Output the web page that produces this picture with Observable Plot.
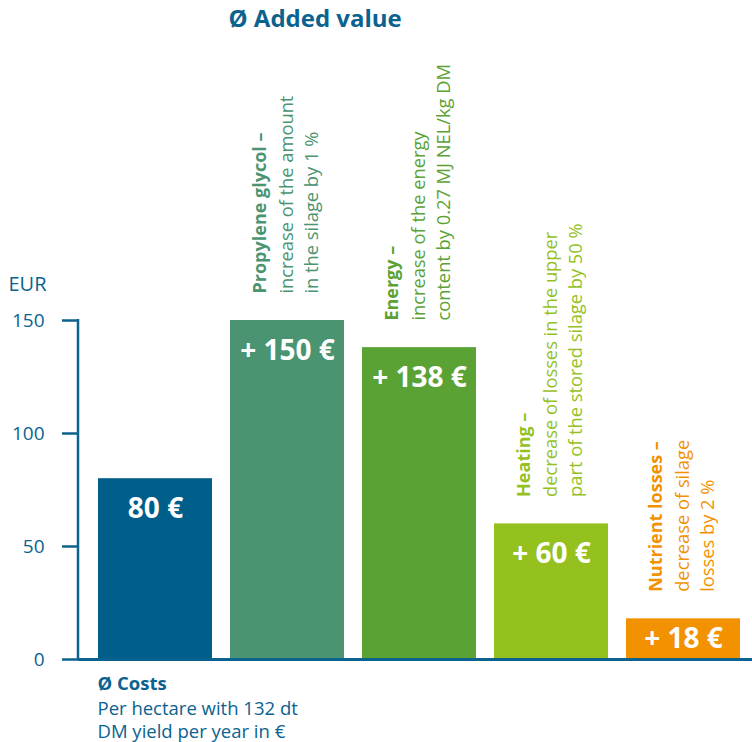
<!DOCTYPE html>
<html>
<head>
<meta charset="utf-8">
<script src="https://cdn.jsdelivr.net/npm/d3@7"></script>
<script src="https://cdn.jsdelivr.net/npm/@observablehq/plot@0.6"></script>
<style>
  html, body { margin: 0; padding: 0; background: #ffffff; }
  #chart svg { display: block; }
</style>
</head>
<body>
<div id="chart"></div>
<script>
// ---- Data ----
const categories = ["Costs", "Propylene glycol", "Energy", "Heating", "Nutrient losses"];
const values = [80, 150, 138, 60, 18];
const valueLabels = ["80 €", "+ 150 €", "+ 138 €", "+ 60 €", "+ 18 €"];
const headings = ["", "Propylene glycol –", "Energy –", "Heating –", "Nutrient losses –"];
const descriptions = [
  "",
  "increase of the amount\nin the silage by 1 %",
  "increase of the energy\ncontent by 0.27 MJ NEL/kg DM",
  "decrease of losses in the upper\npart of the stored silage by 50 %",
  "decrease of silage\nlosses by 2 %"
];
const barColors = ["#005e8a", "#4a9471", "#5ba234", "#95c11f", "#f39200"];
const yTicks = [0, 50, 100, 150];
const titleText = "Ø Added value";
const yLabel = "EUR";
const captionHeading = "Ø Costs";
const captionBody = "Per hectare with 132 dt\nDM yield per year in €";

// ---- Build table ----
const data = categories.map((c, i) => ({
  category: c,
  value: values[i],
  label: valueLabels[i],
  heading: headings[i],
  desc: descriptions[i],
  color: barColors[i]
}));
const annotated = data.filter(d => d.heading);

const FONT = "'Open Sans', sans-serif";
const axisColor = "#0b628e";

// left axis line (vertical domain line)
const leftAxisLine = (index, scales, values, dims) => {
  const line = d3.create("svg:line")
    .attr("x1", dims.marginLeft)
    .attr("x2", dims.marginLeft)
    .attr("y1", scales.y(d3.max(yTicks)) - 1)
    .attr("y2", scales.y(0))
    .attr("stroke", axisColor)
    .attr("stroke-width", 2.5);
  return line.node();
};

const chart = Plot.plot({
  width: 752,
  height: 742,
  marginTop: 320,
  marginBottom: 83,
  marginLeft: 78,
  marginRight: 0,
  style: { fontFamily: FONT, background: "#ffffff", overflow: "visible" },
  x: { type: "band", domain: categories, range: [88, 749], paddingInner: 0.14, paddingOuter: 0.07, axis: null },
  y: { domain: [0, 150], axis: null },
  marks: [
    Plot.barY(data, { x: "category", y: "value", fill: "color" }),
    Plot.ruleY([0], { stroke: axisColor, strokeWidth: 3 }),
    leftAxisLine,
    Plot.axisY({
      ticks: yTicks,
      tickSize: 16,
      tickPadding: 18,
      strokeWidth: 2.5,
      color: axisColor,
      fontSize: 19,
      label: null
    }),
    // value labels inside bars
    Plot.text(data, {
      x: "category",
      y: d => Math.max(d.value - 13.3, d.value / 2),
      text: "label",
      fill: "#ffffff",
      fontSize: 28,
      fontWeight: "bold",
      lineAnchor: "middle"
    }),
    // rotated headings (bold)
    Plot.text(annotated, {
      x: "category",
      y: "value",
      text: "heading",
      fill: "color",
      rotate: -90,
      textAnchor: "start",
      lineAnchor: "middle",
      fontSize: 18,
      fontWeight: "bold",
      dx: -27,
      dy: -27
    }),
    // rotated descriptions
    Plot.text(annotated, {
      x: "category",
      y: "value",
      text: "desc",
      fill: "color",
      rotate: -90,
      textAnchor: "start",
      lineAnchor: "middle",
      lineHeight: 1.36,
      fontSize: 18.3,
      dx: 9.75,
      dy: -27
    }),
    // title
    Plot.text([titleText], {
      frameAnchor: "top-left",
      textAnchor: "start",
      lineAnchor: "middle",
      fontSize: 24,
      fontWeight: "bold",
      fill: axisColor,
      dx: 150,
      dy: -301
    }),
    // y unit label
    Plot.text([yLabel], {
      frameAnchor: "top-left",
      textAnchor: "start",
      lineAnchor: "middle",
      fontSize: 20,
      fill: axisColor,
      dx: -70,
      dy: -36
    }),
    // caption heading
    Plot.text([captionHeading], {
      frameAnchor: "bottom-left",
      textAnchor: "start",
      lineAnchor: "middle",
      fontSize: 18.5,
      fontWeight: "bold",
      fill: axisColor,
      dx: 19,
      dy: 25
    }),
    // caption body
    Plot.text([captionBody], {
      frameAnchor: "bottom-left",
      textAnchor: "start",
      lineAnchor: "middle",
      lineHeight: 1.25,
      fontSize: 18.5,
      fill: axisColor,
      dx: 19,
      dy: 60
    })
  ]
});

document.getElementById("chart").appendChild(chart);
</script>
</body>
</html>
